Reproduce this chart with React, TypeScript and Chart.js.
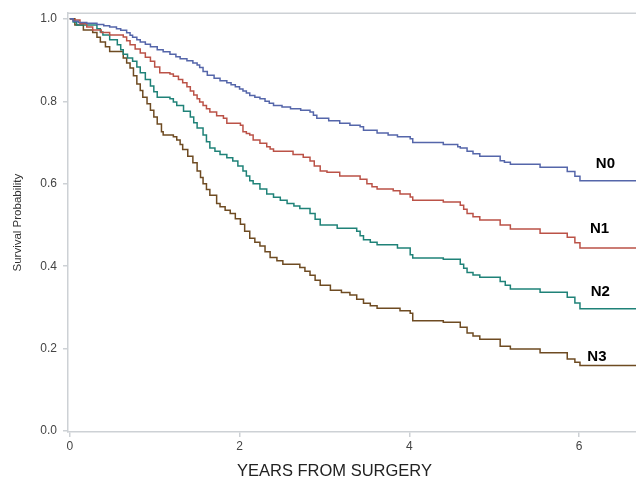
import React, { useEffect, useRef } from "react";
import { Chart, registerables } from "chart.js";

Chart.register(...registerables);

const seriesNames = ["N0", "N1", "N2", "N3"];
const seriesColors = ["#5566aa", "#bb5247", "#1f8278", "#6e4b22"];

// [years, survival probability]
const n0 = [
  [0, 1.0], [0.04, 0.994], [0.10, 0.991], [0.20, 0.989], [0.32, 0.986], [0.40, 0.983], [0.47, 0.98], [0.55, 0.976],
  [0.60, 0.972], [0.67, 0.966], [0.71, 0.96], [0.74, 0.955], [0.79, 0.949], [0.83, 0.944], [0.89, 0.938], [0.95, 0.932],
  [1.03, 0.925], [1.10, 0.92], [1.18, 0.914], [1.25, 0.908], [1.30, 0.903], [1.38, 0.898], [1.45, 0.893], [1.50, 0.888],
  [1.53, 0.882], [1.57, 0.872], [1.62, 0.863], [1.70, 0.856], [1.77, 0.85], [1.85, 0.845], [1.90, 0.84], [1.95, 0.835],
  [2.00, 0.83], [2.04, 0.825], [2.08, 0.82], [2.12, 0.814], [2.18, 0.81], [2.24, 0.806], [2.30, 0.8], [2.35, 0.795],
  [2.40, 0.79], [2.50, 0.786], [2.60, 0.782], [2.72, 0.778], [2.83, 0.774], [2.87, 0.766], [2.91, 0.759], [3.05, 0.753],
  [3.18, 0.747], [3.30, 0.742], [3.42, 0.738], [3.46, 0.73], [3.62, 0.723], [3.75, 0.718], [3.86, 0.714], [4.01, 0.709],
  [4.04, 0.70], [4.40, 0.695], [4.57, 0.69], [4.60, 0.687], [4.68, 0.679], [4.75, 0.673], [4.83, 0.667], [5.07, 0.656],
  [5.12, 0.652], [5.19, 0.647], [5.54, 0.64], [5.86, 0.63], [5.95, 0.618], [6.01, 0.607], [6.70, 0.607],
];

const n1 = [
  [0, 1.0], [0.04, 0.997], [0.12, 0.988], [0.20, 0.98], [0.27, 0.973], [0.37, 0.967], [0.47, 0.961], [0.63, 0.956],
  [0.67, 0.947], [0.71, 0.937], [0.77, 0.927], [0.83, 0.917], [0.89, 0.907], [0.95, 0.897], [1.00, 0.883], [1.06, 0.869],
  [1.18, 0.866], [1.22, 0.861], [1.28, 0.853], [1.33, 0.845], [1.38, 0.835], [1.42, 0.825], [1.46, 0.815], [1.50, 0.806],
  [1.53, 0.798], [1.57, 0.79], [1.61, 0.782], [1.65, 0.774], [1.73, 0.765], [1.81, 0.759], [1.85, 0.747], [2.01, 0.742],
  [2.04, 0.726], [2.08, 0.722], [2.12, 0.718], [2.16, 0.706], [2.24, 0.698], [2.32, 0.69], [2.36, 0.684], [2.40, 0.679],
  [2.63, 0.671], [2.75, 0.664], [2.83, 0.655], [2.88, 0.643], [2.95, 0.631], [3.03, 0.628], [3.18, 0.619], [3.42, 0.611],
  [3.50, 0.60], [3.56, 0.593], [3.62, 0.587], [3.81, 0.583], [3.89, 0.575], [4.01, 0.568], [4.04, 0.56], [4.40, 0.556],
  [4.60, 0.548], [4.64, 0.538], [4.68, 0.528], [4.75, 0.52], [4.83, 0.512], [5.07, 0.50], [5.19, 0.49], [5.54, 0.48],
  [5.86, 0.47], [5.95, 0.457], [6.01, 0.444], [6.70, 0.444],
];

const n2 = [
  [0, 1.0], [0.04, 0.992], [0.08, 0.985], [0.32, 0.976], [0.36, 0.968], [0.39, 0.961], [0.47, 0.949], [0.56, 0.937],
  [0.60, 0.925], [0.63, 0.914], [0.68, 0.905], [0.74, 0.897], [0.79, 0.883], [0.83, 0.869], [0.89, 0.853], [0.95, 0.837],
  [0.99, 0.823], [1.03, 0.81], [1.18, 0.806], [1.22, 0.798], [1.26, 0.79], [1.34, 0.776], [1.42, 0.762], [1.46, 0.748],
  [1.50, 0.735], [1.57, 0.718], [1.61, 0.702], [1.65, 0.687], [1.71, 0.679], [1.77, 0.671], [1.85, 0.663], [1.92, 0.655],
  [1.98, 0.643], [2.04, 0.631], [2.08, 0.619], [2.12, 0.607], [2.16, 0.60], [2.24, 0.587], [2.32, 0.575], [2.40, 0.567],
  [2.48, 0.56], [2.56, 0.552], [2.64, 0.546], [2.71, 0.54], [2.83, 0.528], [2.89, 0.514], [2.95, 0.50], [3.15, 0.492],
  [3.38, 0.485], [3.42, 0.474], [3.46, 0.464], [3.54, 0.458], [3.62, 0.452], [3.86, 0.444], [4.01, 0.428], [4.04, 0.42],
  [4.40, 0.417], [4.60, 0.405], [4.64, 0.395], [4.68, 0.385], [4.75, 0.379], [4.83, 0.373], [5.07, 0.363], [5.13, 0.354],
  [5.19, 0.345], [5.54, 0.337], [5.86, 0.325], [5.95, 0.311], [6.01, 0.297], [6.70, 0.297],
];

const n3 = [
  [0, 1.0], [0.06, 0.985], [0.16, 0.973], [0.27, 0.967], [0.32, 0.955], [0.36, 0.944], [0.42, 0.932], [0.47, 0.921],
  [0.63, 0.905], [0.67, 0.893], [0.71, 0.881], [0.75, 0.862], [0.79, 0.842], [0.83, 0.826], [0.86, 0.81], [0.91, 0.794],
  [0.95, 0.778], [0.99, 0.762], [1.03, 0.745], [1.08, 0.726], [1.10, 0.718], [1.22, 0.714], [1.26, 0.706], [1.30, 0.695],
  [1.33, 0.683], [1.39, 0.667], [1.45, 0.651], [1.50, 0.631], [1.54, 0.615], [1.57, 0.60], [1.61, 0.586], [1.65, 0.572],
  [1.73, 0.552], [1.77, 0.544], [1.83, 0.536], [1.89, 0.528], [1.95, 0.515], [2.01, 0.502], [2.06, 0.485], [2.12, 0.468],
  [2.18, 0.458], [2.24, 0.449], [2.30, 0.435], [2.36, 0.421], [2.44, 0.413], [2.51, 0.405], [2.71, 0.397], [2.77, 0.388],
  [2.83, 0.378], [2.89, 0.366], [2.95, 0.354], [3.07, 0.342], [3.20, 0.336], [3.30, 0.33], [3.38, 0.32], [3.46, 0.31],
  [3.54, 0.304], [3.62, 0.298], [3.89, 0.292], [4.01, 0.286], [4.04, 0.268], [4.40, 0.264], [4.60, 0.252], [4.68, 0.238],
  [4.75, 0.231], [4.83, 0.223], [5.07, 0.206], [5.19, 0.199], [5.54, 0.19], [5.86, 0.175], [5.95, 0.167], [6.01, 0.159],
  [6.70, 0.159],
];

const labelX = [6.31, 6.24, 6.25, 6.21];
const labelY = [0.649, 0.49, 0.337, 0.18];

const xTicks = [0, 2, 4, 6];
const yTicks = [0, 0.2, 0.4, 0.6, 0.8, 1.0];

const xTitle = "YEARS FROM SURGERY";
const yTitle = "Survival Probability";

const FONT = "'Liberation Sans', Arial, sans-serif";
const AXIS_COLOR = "#cdd1d5";

export default function App() {
  const ref = useRef<HTMLCanvasElement | null>(null);

  useEffect(() => {
    document.body.style.margin = "0";
    const canvas = ref.current;
    if (!canvas) return;
    const allSeries = [n0, n1, n2, n3];

    const datasets = seriesNames.map((name, i) => ({
      label: name,
      data: allSeries[i].map(([t, s]) => ({ x: t, y: s })),
      borderColor: seriesColors[i],
      backgroundColor: seriesColors[i],
      borderWidth: 1.5,
      pointRadius: 0,
      stepped: true as const,
      fill: false,
    }));

    const overlay = {
      id: "overlay",
      afterDatasetsDraw(chart: any) {
        const { ctx, chartArea, scales } = chart;
        ctx.save();
        ctx.strokeStyle = AXIS_COLOR;
        ctx.lineWidth = 1.5;
        ctx.beginPath();
        ctx.moveTo(chartArea.left, chartArea.top);
        ctx.lineTo(chartArea.right, chartArea.top);
        ctx.stroke();
        ctx.fillStyle = "#000";
        ctx.font = `bold 15px ${FONT}`;
        ctx.textAlign = "center";
        ctx.textBaseline = "middle";
        seriesNames.forEach((n, i) => {
          ctx.fillText(n, scales.x.getPixelForValue(labelX[i]), scales.y.getPixelForValue(labelY[i]));
        });
        ctx.fillStyle = "#222";
        ctx.font = `16.5px ${FONT}`;
        ctx.fillText(xTitle, 334.5, 471);
        ctx.restore();
      },
    };

    const chart = new Chart(canvas, {
      type: "line",
      data: { datasets },
      plugins: [overlay],
      options: {
        animation: false,
        responsive: false,
        layout: { padding: { top: 6, right: 0, bottom: 0, left: 0 } },
        plugins: { legend: { display: false }, tooltip: { enabled: false } },
        scales: {
          x: {
            type: "linear",
            min: -0.021,
            max: 6.67,
            afterBuildTicks: (s: any) => {
              s.ticks = xTicks.map((v) => ({ value: v }));
            },
            afterFit: (s: any) => {
              s.height = 51;
            },
            ticks: {
              color: "#444",
              font: { family: FONT, size: 12 },
              padding: 2,
              maxRotation: 0,
              callback: (v: any) => String(v),
            },
            grid: { drawOnChartArea: false, drawTicks: true, tickLength: 5, color: AXIS_COLOR, lineWidth: 1.5 },
            border: { color: AXIS_COLOR, width: 1.5 },
          },
          y: {
            type: "linear",
            min: -0.002,
            max: 1.0136,
            afterBuildTicks: (s: any) => {
              s.ticks = yTicks.map((v) => ({ value: v }));
            },
            afterFit: (s: any) => {
              s.width = 68;
            },
            ticks: {
              color: "#444",
              font: { family: FONT, size: 12 },
              padding: 6,
              callback: (v: any) => Number(v).toFixed(1),
            },
            grid: { drawOnChartArea: false, drawTicks: true, tickLength: 5, color: AXIS_COLOR, lineWidth: 1.5 },
            border: { color: AXIS_COLOR, width: 1.5 },
            title: {
              display: true,
              text: yTitle,
              color: "#333",
              font: { family: FONT, size: 11.5 },
              padding: { top: 11, bottom: 0 },
            },
          },
        },
      },
    });
    return () => chart.destroy();
  }, []);

  return (
    <div style={{ width: 636, height: 483, background: "#fff" }}>
      <canvas ref={ref} width={636} height={483} style={{ display: "block", width: 636, height: 483 }} />
    </div>
  );
}
